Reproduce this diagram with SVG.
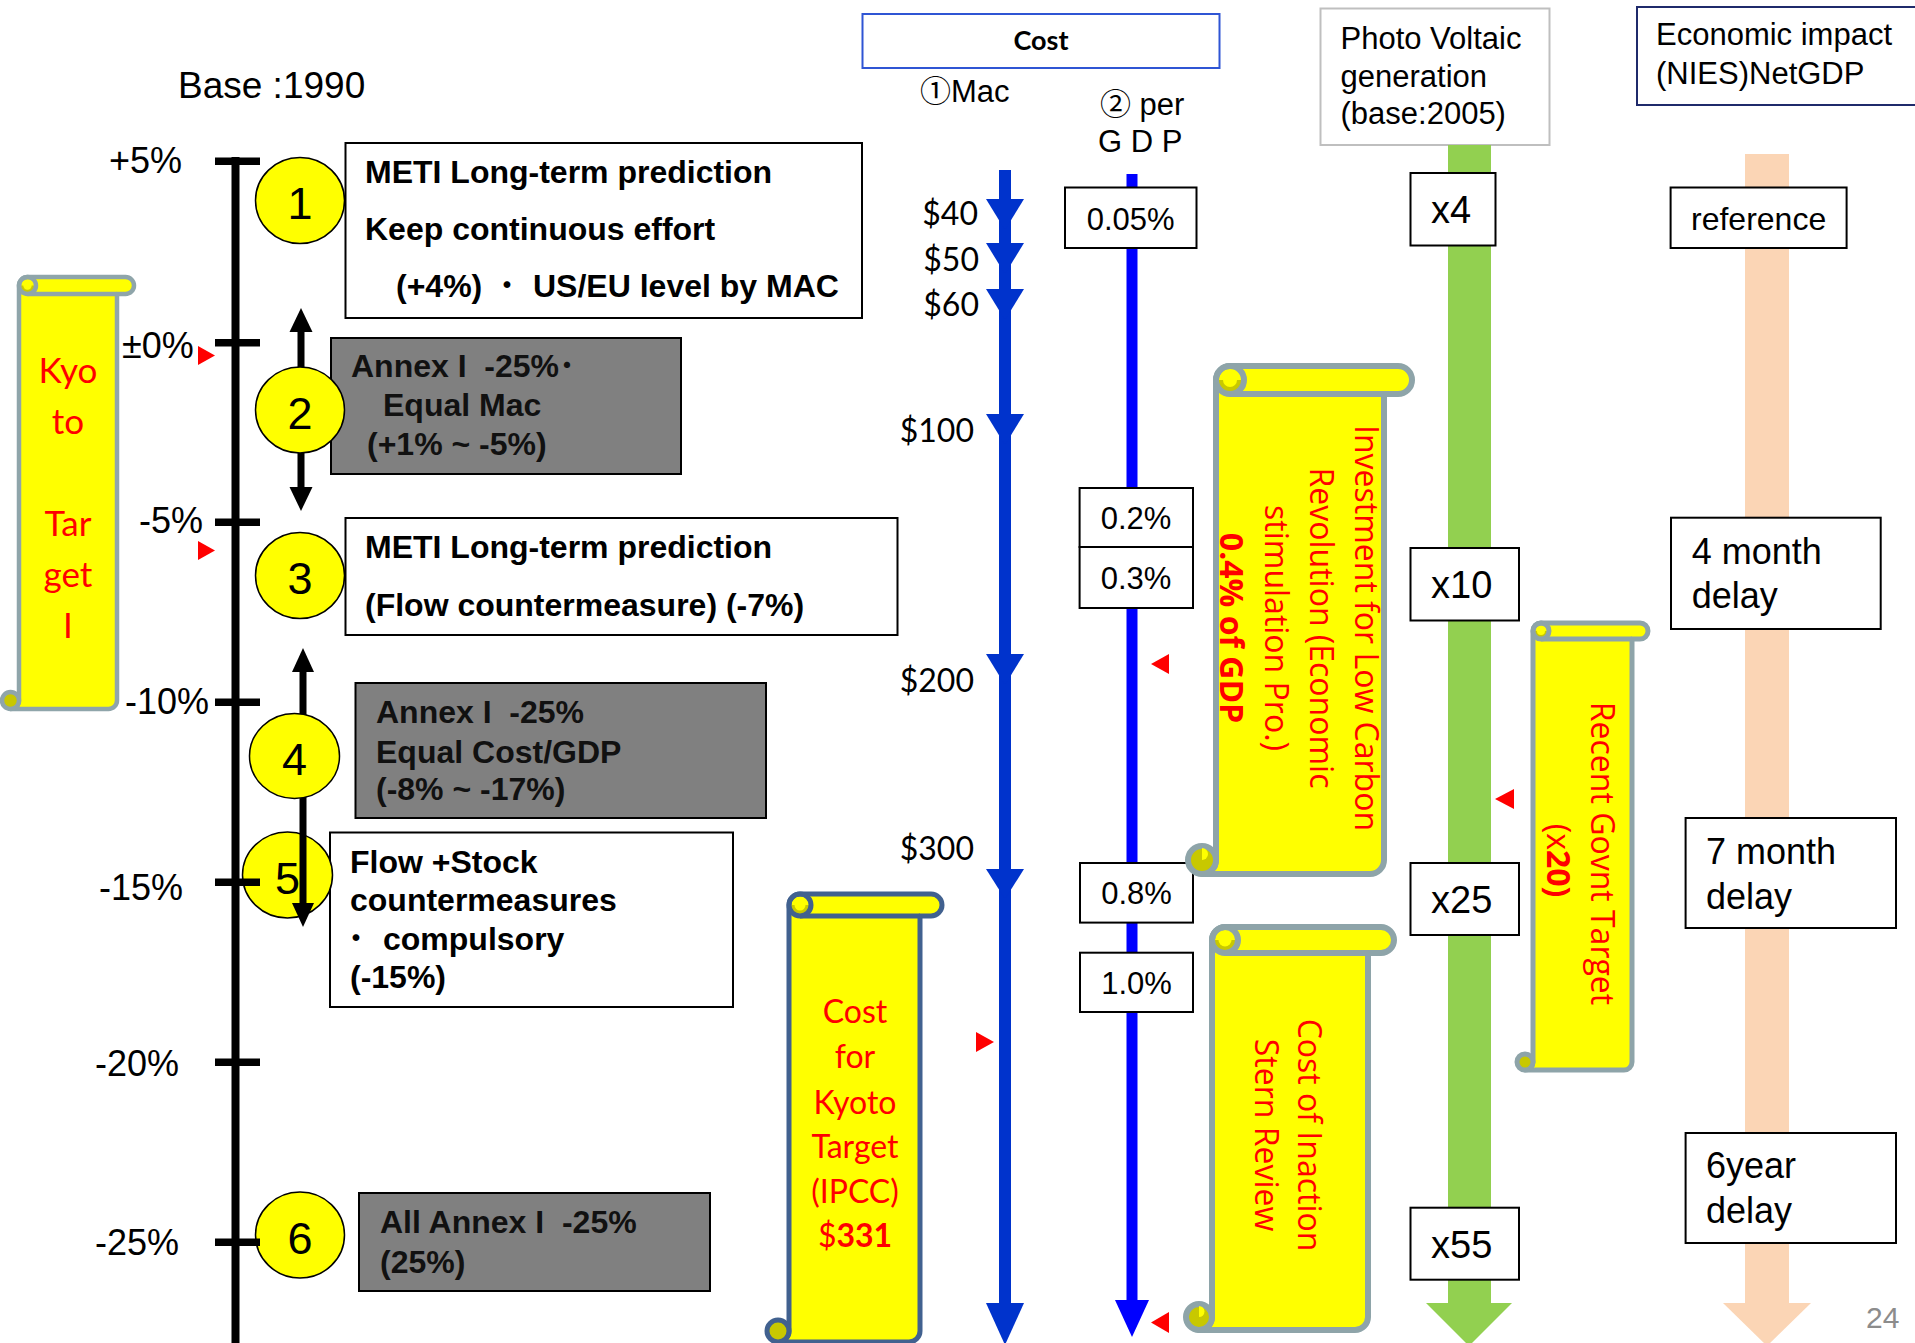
<svg xmlns="http://www.w3.org/2000/svg" width="1915" height="1343" viewBox="0 0 1915 1343">
<defs>
<style>
text{font-family:"Liberation Sans","Noto Sans CJK JP",sans-serif;fill:#000}
.bt{font-weight:bold;font-size:32px}
.gt{font-weight:bold;font-size:32px;fill:#111}
.dot{font-weight:normal}
.ax{font-size:36px}
.num{font-size:45px;text-anchor:middle}
.wbox{fill:#fff;stroke:#000;stroke-width:2}
.gbox{fill:#808080;stroke:#000;stroke-width:2}
.circ{fill:#ffff00;stroke:#000;stroke-width:1.5}
.cal{font-family:Lato,"Liberation Sans",sans-serif}
.ktxt{font-family:Lato,"Liberation Sans",sans-serif;fill:#ff0000;text-anchor:middle}
.os{font-family:"Open Sans","Noto Sans",sans-serif;font-size:32px;fill:#ff0000;text-anchor:middle}
.scr{fill:#ffff00;stroke:#8ea4a9;stroke-linejoin:round}
.scl{fill:none;stroke:#8ea4a9}
.olive{fill:#c8c800;stroke:none}
.yel{fill:#ffff00;stroke:none}
.tri{fill:#ff0000}
.val{font-size:31px;text-anchor:middle}
.pv{font-size:38px}
.dl{font-size:36px}
.hd{font-size:31px}
.mac{font-family:Lato,"Liberation Sans",sans-serif;font-size:32px;text-anchor:end}
</style>
</defs>

<!-- Header -->
<text x="178" y="98" style="font-size:37px">Base :1990</text>

<!-- Left scroll: Kyoto Target -->
<g id="kyoto-target-scroll">
<path class="scr" style="stroke-width:4.5;stroke:#8fa5aa" d="M10.5,709 L108.5,709 A8.5,8.5 0 0 0 117,700.5 L117,294 L125.5,294 A8.5,8.5 0 0 0 125.5,277 L27.5,277 A8.5,8.5 0 0 0 19,285.5 L19,700.5 A8.5,8.5 0 0 1 10.5,709 Z"/>
<path class="scl" style="stroke-width:4.5;stroke:#8fa5aa" d="M27.5,294 L117,294"/>
<path class="olive" d="M19,285.5 A8.5,8.5 0 0 0 36,285.5 Z"/>
<circle cx="27.5" cy="285.5" r="4.2" class="yel"/>
<circle cx="27.5" cy="285.5" r="8.5" fill="none" stroke="#8fa5aa" stroke-width="4.5"/>
<circle cx="10.5" cy="700.5" r="8.5" fill="#c8c800" stroke="#8fa5aa" stroke-width="4.5"/>
<text class="ktxt" style="font-size:35px"><tspan x="68" y="383">Kyo</tspan><tspan x="68" y="434">to</tspan><tspan x="68" y="536">Tar</tspan><tspan x="68" y="587">get</tspan><tspan x="68" y="638">I</tspan></text>
</g>

<!-- Boxes (drawn before circles) -->
<g id="box1">
<rect class="wbox" x="345.5" y="143" width="516.5" height="175"/>
<text class="bt" x="365" y="183">METI Long-term prediction</text>
<text class="bt" x="365" y="240">Keep continuous effort</text>
<text class="bt" y="297"><tspan x="396">(+4%)</tspan><tspan class="dot" x="491">・</tspan><tspan x="533">US/EU level by MAC</tspan></text>
</g>
<g id="box2">
<rect class="gbox" x="331" y="338" width="350" height="136"/>
<text class="gt" x="351" y="377" xml:space="preserve">Annex I  -25%･</text>
<text class="gt" x="383" y="416">Equal Mac</text>
<text class="gt" x="367" y="455">(+1% ~ -5%)</text>
</g>
<g id="box3">
<rect class="wbox" x="345.5" y="518" width="552" height="117"/>
<text class="bt" x="365" y="558">METI Long-term prediction</text>
<text class="bt" x="365" y="616">(Flow countermeasure) (-7%)</text>
</g>
<g id="box4">
<rect class="gbox" x="355.5" y="683" width="410.5" height="135"/>
<text class="gt" x="376" y="723" xml:space="preserve">Annex I  -25%</text>
<text class="gt" x="376" y="763">Equal Cost/GDP</text>
<text class="gt" x="376" y="800">(-8% ~ -17%)</text>
</g>
<g id="box5">
<rect class="wbox" x="330" y="832.5" width="403" height="174.5"/>
<text class="bt" x="350" y="873">Flow +Stock</text>
<text class="bt" x="350" y="911">countermeasures</text>
<text class="bt" y="950"><tspan class="dot" x="340">・</tspan><tspan x="383">compulsory</tspan></text>
<text class="bt" x="350" y="988">(-15%)</text>
</g>
<g id="box6">
<rect class="gbox" x="359" y="1193" width="351" height="98"/>
<text class="gt" x="380" y="1233" xml:space="preserve">All Annex I  -25%</text>
<text class="gt" x="380" y="1273">(25%)</text>
</g>

<!-- Circles and range arrows -->
<g id="node1"><ellipse class="circ" cx="300" cy="200.5" rx="44.5" ry="43"/><text class="num" x="300" y="219">1</text></g>
<g id="arrowA">
<line x1="301" y1="328" x2="301" y2="491" stroke="#000" stroke-width="7"/>
<polygon points="301,308 289.5,332 312.5,332"/>
<polygon points="301,511 289.5,487 312.5,487"/>
</g>
<g id="node2"><ellipse class="circ" cx="300" cy="410" rx="44.5" ry="43"/><text class="num" x="300" y="429">2</text></g>
<g id="node3"><ellipse class="circ" cx="300" cy="575.5" rx="44.5" ry="43"/><text class="num" x="300" y="594">3</text></g>
<g id="node5"><ellipse class="circ" cx="287.5" cy="875" rx="45" ry="43"/><text class="num" x="287.5" y="894">5</text></g>
<g id="arrowB">
<line x1="303" y1="668" x2="303" y2="907" stroke="#000" stroke-width="7"/>
<polygon points="303,648 292,672 314,672"/>
<polygon points="303,927 292,903 314,903"/>
</g>
<g id="node4"><ellipse class="circ" cx="294.5" cy="756" rx="45" ry="42.5"/><text class="num" x="294.5" y="775">4</text></g>
<g id="node6"><ellipse class="circ" cx="300" cy="1235" rx="44.5" ry="43"/><text class="num" x="300" y="1254">6</text></g>

<!-- Axis -->
<g id="axis">
<line x1="235.5" y1="157" x2="235.5" y2="1343" stroke="#000" stroke-width="8"/>
<g fill="#000">
<rect x="215" y="157.5" width="45" height="7.5"/>
<rect x="215" y="339" width="45" height="7.5"/>
<rect x="215" y="518.5" width="45" height="7.5"/>
<rect x="215" y="698.5" width="45" height="7.5"/>
<rect x="215" y="878.5" width="45" height="7.5"/>
<rect x="215" y="1058.5" width="45" height="7.5"/>
<rect x="215" y="1238.5" width="45" height="7.5"/>
</g>
<text class="ax" x="109" y="173">+5%</text>
<text class="ax" x="122" y="358">±0%</text>
<text class="ax" x="139" y="533">-5%</text>
<text class="ax" x="125" y="714">-10%</text>
<text class="ax" x="99" y="900">-15%</text>
<text class="ax" x="95" y="1076">-20%</text>
<text class="ax" x="95" y="1255">-25%</text>
</g>

<!-- Cost header -->
<g id="cost-header">
<rect x="862.5" y="14" width="357" height="54" fill="#fff" stroke="#2f55d4" stroke-width="2"/>
<text x="1041" y="50" class="cal" style="font-size:27px;font-weight:bold;text-anchor:middle">Cost</text>
<text x="920" y="102" style="font-size:31px">①Mac</text>
<text x="1100" y="115" style="font-size:31px">② per</text>
<text x="1098" y="152" style="font-size:31px">G D P</text>
</g>

<!-- Mac arrow -->
<g id="mac-arrow" fill="#0033cc">
<rect x="999" y="170" width="12" height="1140"/>
<polygon points="986,199 1024,199 1005,230"/>
<polygon points="986,243 1024,243 1005,274"/>
<polygon points="986,289 1024,289 1005,320"/>
<polygon points="986,414 1024,414 1005,445"/>
<polygon points="986,654 1024,654 1005,685"/>
<polygon points="986,869 1024,869 1005,899"/>
<polygon points="986,1303 1024,1303 1005,1345"/>
</g>
<g id="mac-labels">
<text class="mac" x="978" y="225">$40</text>
<text class="mac" x="979" y="271">$50</text>
<text class="mac" x="979" y="316">$60</text>
<text class="mac" x="974" y="442">$100</text>
<text class="mac" x="974" y="692">$200</text>
<text class="mac" x="974" y="860">$300</text>
</g>

<!-- GDP arrow -->
<g id="gdp-arrow" fill="#0000ff">
<rect x="1126.5" y="174" width="11" height="1130"/>
<polygon points="1115,1300 1149,1300 1132,1337"/>
</g>
<g id="gdp-boxes">
<rect class="wbox" x="1065" y="187.5" width="131.5" height="60.5"/><text class="val" x="1130.7" y="230">0.05%</text>
<rect class="wbox" x="1079.6" y="488" width="113.4" height="59"/><text class="val" x="1136" y="529">0.2%</text>
<rect class="wbox" x="1079.6" y="547" width="113.4" height="61"/><text class="val" x="1136" y="589">0.3%</text>
<rect class="wbox" x="1080" y="863" width="113" height="59.6"/><text class="val" x="1136.5" y="904">0.8%</text>
<rect class="wbox" x="1080" y="952.7" width="113" height="59.3"/><text class="val" x="1136.5" y="994">1.0%</text>
</g>

<!-- Cost for Kyoto scroll -->
<g id="kyoto-cost-scroll">
<path class="scr" style="stroke-width:5;stroke:#41618f" d="M778,1342 L909,1342 A11,11 0 0 0 920,1331 L920,916 L931,916 A11,11 0 0 0 931,894 L800,894 A11,11 0 0 0 789,905 L789,1331 A11,11 0 0 1 778,1342 Z"/>
<path class="scl" style="stroke-width:5;stroke:#41618f" d="M800,916 L920,916"/>
<path class="olive" d="M789,905 A11,11 0 0 0 811,905 Z"/>
<circle cx="800" cy="905" r="5.5" class="yel"/>
<circle cx="800" cy="905" r="11" fill="none" stroke="#41618f" stroke-width="5"/>
<circle cx="778" cy="1331" r="11" fill="#c8c800" stroke="#41618f" stroke-width="5"/>
<text class="ktxt" style="font-size:32px"><tspan x="855" y="1023">Cost</tspan><tspan x="855" y="1068">for</tspan><tspan x="855" y="1114">Kyoto</tspan><tspan x="855" y="1158">Target</tspan><tspan x="855" y="1203">(IPCC)</tspan><tspan x="855" y="1247">$<tspan style="font-weight:bold">331</tspan></tspan></text>
</g>

<!-- Investment scroll -->
<g id="investment-scroll">
<path class="scr" style="stroke-width:6" d="M1202,874 L1370,874 A14,14 0 0 0 1384,860 L1384,394 L1398,394 A14,14 0 0 0 1398,366 L1230,366 A14,14 0 0 0 1216,380 L1216,860 A14,14 0 0 1 1202,874 Z"/>
<path class="scl" style="stroke-width:6" d="M1230,394 L1384,394"/>
<path class="olive" d="M1216,380 A14,14 0 0 0 1244,380 Z"/>
<circle cx="1230" cy="380" r="7" class="yel"/>
<circle cx="1230" cy="380" r="14" fill="none" stroke="#8ea4a9" stroke-width="6"/>
<circle cx="1202" cy="860" r="14" fill="#c8c800" stroke="#8ea4a9" stroke-width="6"/>
<path class="yel" d="M1202,848 A6,6 0 0 1 1202,860 Z"/>
<text class="os" transform="translate(1355,628) rotate(90)">Investment for Low Carbon</text>
<text class="os" transform="translate(1310,628) rotate(90)">Revolution (Economic</text>
<text class="os" transform="translate(1265,628) rotate(90)">stimulation Pro.)</text>
<text class="os" transform="translate(1220,628) rotate(90)" style="font-weight:bold">0.4% of GDP</text>
</g>

<!-- Cost of Inaction scroll -->
<g id="inaction-scroll">
<path class="scr" style="stroke-width:6" d="M1199,1330 L1355,1330 A13,13 0 0 0 1368,1317 L1368,953 L1381,953 A13,13 0 0 0 1381,927 L1225,927 A13,13 0 0 0 1212,940 L1212,1317 A13,13 0 0 1 1199,1330 Z"/>
<path class="scl" style="stroke-width:6" d="M1225,953 L1368,953"/>
<path class="olive" d="M1212,940 A13,13 0 0 0 1238,940 Z"/>
<circle cx="1225" cy="940" r="6.5" class="yel"/>
<circle cx="1225" cy="940" r="13" fill="none" stroke="#8ea4a9" stroke-width="6"/>
<circle cx="1199" cy="1317" r="13" fill="#c8c800" stroke="#8ea4a9" stroke-width="6"/>
<path class="yel" d="M1199,1306 A5.5,5.5 0 0 1 1199,1317 Z"/>
<text class="os" transform="translate(1298,1135) rotate(90)">Cost of Inaction</text>
<text class="os" transform="translate(1255,1135) rotate(90)">Stern Review</text>
</g>

<!-- Photo Voltaic column -->
<g id="pv-header">
<rect x="1320.5" y="8.5" width="229" height="136.5" fill="#fff" stroke="#bfbfbf" stroke-width="2"/>
<text class="hd" x="1340.5" y="49">Photo Voltaic</text>
<text class="hd" x="1340.5" y="87">generation</text>
<text class="hd" x="1340.5" y="124">(base:2005)</text>
</g>
<g id="pv-arrow" fill="#92d050">
<rect x="1448" y="145" width="43" height="1160"/>
<polygon points="1426,1303 1512,1303 1469,1346"/>
</g>
<g id="pv-boxes">
<rect class="wbox" x="1410.5" y="173" width="85" height="72.5"/><text class="pv" x="1431" y="223">x4</text>
<rect class="wbox" x="1410.5" y="548" width="108.5" height="72.5"/><text class="pv" x="1431" y="598">x10</text>
<rect class="wbox" x="1410.5" y="863" width="108.5" height="72"/><text class="pv" x="1431" y="913">x25</text>
<rect class="wbox" x="1410.5" y="1207.7" width="108.5" height="72"/><text class="pv" x="1431" y="1257.6">x55</text>
</g>

<!-- Recent Govnt Target scroll -->
<g id="govnt-scroll">
<path class="scr" style="stroke-width:5" d="M1525,1070 L1624,1070 A8,8 0 0 0 1632,1062 L1632,639 L1640,639 A8,8 0 0 0 1640,623 L1541,623 A8,8 0 0 0 1533,631 L1533,1062 A8,8 0 0 1 1525,1070 Z"/>
<path class="scl" style="stroke-width:5" d="M1541,639 L1632,639"/>
<path class="olive" d="M1533,631 A8,8 0 0 0 1549,631 Z"/>
<circle cx="1541" cy="631" r="4" class="yel"/>
<circle cx="1541" cy="631" r="8" fill="none" stroke="#8ea4a9" stroke-width="5"/>
<circle cx="1525" cy="1062" r="8" fill="#c8c800" stroke="#8ea4a9" stroke-width="5"/>
<text class="os" transform="translate(1591,853.5) rotate(90)">Recent Govnt Target</text>
<text class="os" transform="translate(1547,860.5) rotate(90)">(x<tspan style="font-weight:bold">20)</tspan></text>
</g>

<!-- Economic impact column -->
<g id="econ-header">
<rect x="1637" y="7" width="290" height="98" fill="#fff" stroke="#1f2a6b" stroke-width="2"/>
<text class="hd" x="1656" y="45">Economic impact</text>
<text class="hd" x="1656" y="84">(NIES)NetGDP</text>
</g>
<g id="econ-arrow" fill="#fbd5b5">
<rect x="1745" y="154" width="44" height="1151"/>
<polygon points="1723,1303 1811,1303 1767,1346"/>
</g>
<g id="econ-boxes">
<rect class="wbox" x="1670.6" y="187.5" width="176" height="60.5"/><text x="1758.6" y="230" style="font-size:32px;text-anchor:middle">reference</text>
<rect class="wbox" x="1671" y="517.7" width="209.7" height="111.3"/><text class="dl"><tspan x="1691.7" y="564">4 month</tspan><tspan x="1691.7" y="608">delay</tspan></text>
<rect class="wbox" x="1685.6" y="818" width="210.4" height="110"/><text class="dl"><tspan x="1706" y="863.5">7 month</tspan><tspan x="1706" y="908.5">delay</tspan></text>
<rect class="wbox" x="1685.6" y="1133" width="210.4" height="110"/><text class="dl"><tspan x="1706" y="1178">6year</tspan><tspan x="1706" y="1223">delay</tspan></text>
</g>

<!-- Red markers -->
<g id="markers" class="tri">
<polygon points="198,346 198,365 215,355.5"/>
<polygon points="198,541 198,560 215,550.5"/>
<polygon points="1169,654 1169,674 1151,664"/>
<polygon points="1514,789 1514,809 1495,799"/>
<polygon points="1169,1312 1169,1333 1151,1322.5"/>
<polygon points="976,1032 976,1052 994,1042"/>
</g>

<text x="1866" y="1328" style="font-size:30px;fill:#8c8c8c">24</text>
</svg>
